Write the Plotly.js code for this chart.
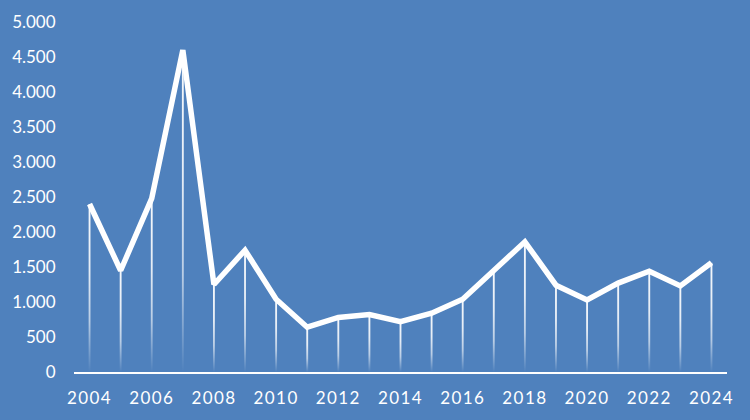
<!DOCTYPE html>
<html>
<head>
<meta charset="utf-8">
<script src="https://cdn.plot.ly/plotly-3.0.1.min.js"></script>
<style>html,body{margin:0;padding:0;background:#4F81BD;}#chart{width:750px;height:420px;}
#chart .xtick text{letter-spacing:1.4px;}</style>
</head>
<body>
<div id="chart"></div>
<script>
var years = [2004,2005,2006,2007,2008,2009,2010,2011,2012,2013,2014,2015,2016,2017,2018,2019,2020,2021,2022,2023,2024];
var values = [2400,1450,2480,4600,1250,1740,1040,640,780,820,720,840,1040,1450,1860,1240,1030,1270,1440,1230,1560];
var tickYears = [2004,2006,2008,2010,2012,2014,2016,2018,2020,2022,2024];

var bg = '#4F81BD';
var halfW = 0.03;
var traces = [];
years.forEach(function(yr, i){
  var v = values[i];
  traces.push({
    type:'scatter', mode:'none', hoverinfo:'skip', showlegend:false,
    x:[yr-halfW, yr+halfW, yr+halfW, yr-halfW, yr-halfW],
    y:[0, 0, v, v, 0],
    fill:'toself',
    fillgradient:{type:'vertical', start:0, stop:v,
      colorscale:[[0,'rgba(255,255,255,0)'],[0.3,'rgba(255,255,255,0.6)'],[0.6,'rgba(255,255,255,0.85)'],[1,'rgba(255,255,255,0.95)']]}
  });
});
traces.push({
  type:'scatter', mode:'lines', x:years, y:values, showlegend:false, cliponaxis:false,
  line:{color:'#FFFFFF', width:5.5}
});

var layout = {
  width:750, height:420,
  paper_bgcolor:bg, plot_bgcolor:bg,
  margin:{l:74, r:23, t:22, b:48},
  separators:',.',
  font:{family:'Lato, "Noto Sans", sans-serif', size:17, color:'#FFFFFF'},
  xaxis:{range:[2003.5,2024.5], tickvals:tickYears, ticktext:tickYears.map(String),
    showgrid:false, zeroline:false, showline:true, linecolor:'#FFFFFF', linewidth:2,
    ticks:'outside', ticklen:10, tickcolor:'rgba(0,0,0,0)', fixedrange:true},
  yaxis:{range:[0,5000], dtick:500, tickformat:',d', showgrid:false, zeroline:false, showline:false,
    ticks:'outside', ticklen:14, tickcolor:'rgba(0,0,0,0)', fixedrange:true}
};
Plotly.newPlot('chart', traces, layout, {displayModeBar:false, staticPlot:true});
</script>
</body>
</html>
